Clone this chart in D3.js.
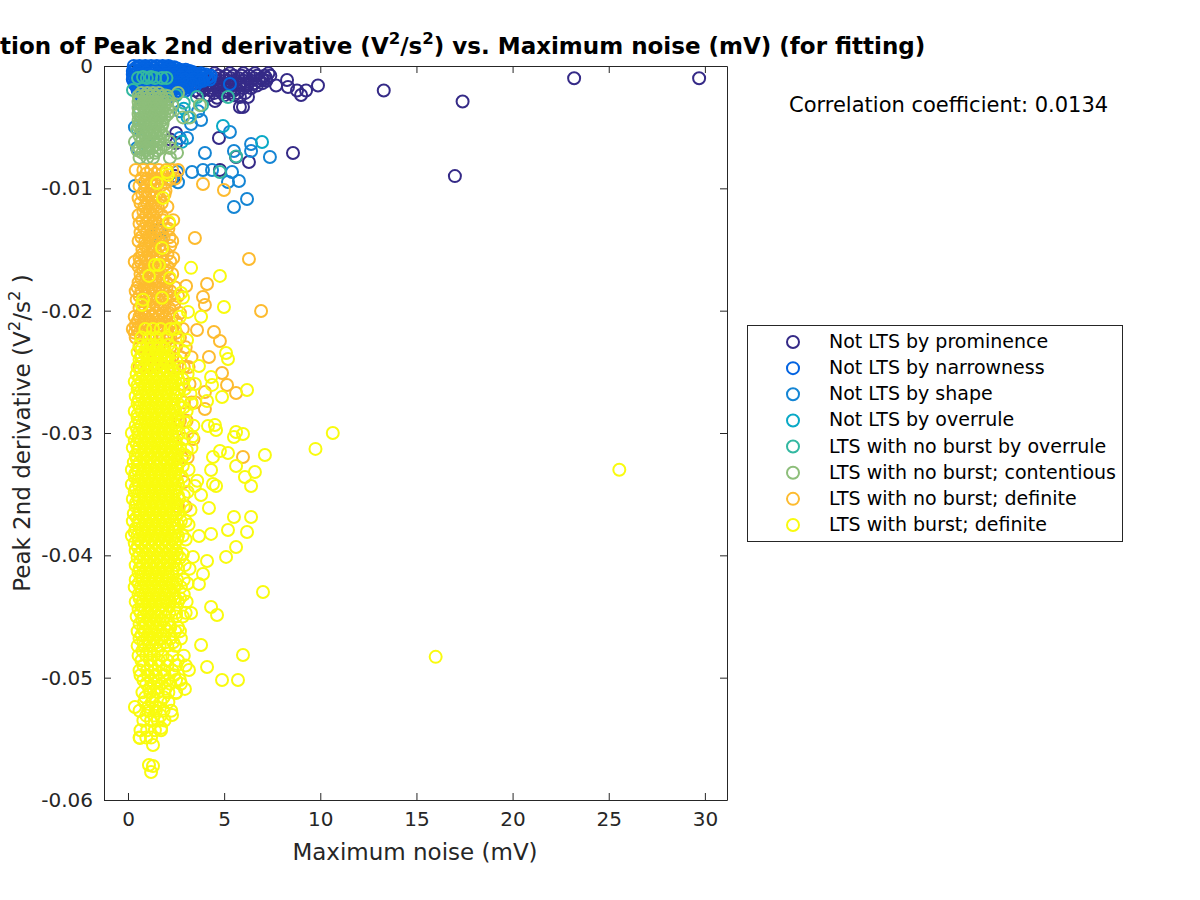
<!DOCTYPE html>
<html><head><meta charset="utf-8">
<script src="https://cdn.jsdelivr.net/npm/d3@7"></script>
<style>html,body{margin:0;background:#fff}svg{display:block}text{font-family:"DejaVu Sans";}</style>
</head><body><svg id="c" width="1200" height="900"></svg>
<script>
const categories=["Not LTS by prominence","Not LTS by narrowness","Not LTS by shape","Not LTS by overrule","LTS with no burst by overrule","LTS with no burst; contentious","LTS with no burst; definite","LTS with burst; definite"];
const colors=["#352a87","#0363e1","#1485d4","#09a9c6","#33b8a1","#8dbe7a","#fdbb2f","#f9fb0e"];
const xTicks=[0,5,10,15,20,25,30];
const yTicks=[0,-.01,-.02,-.03,-.04,-.05,-.06];
const yTickLabels=["0","-0.01","-0.02","-0.03","-0.04","-0.05","-0.06"];
// each row: [y, x, x, ...]
const prominence=[[-.0008,3.9,4.3,4.7,5.1,5.5,5.9,6.3,6.7,7.1,7.4],[-.0012,4,4.4,4.8,5.2,5.6,6,6.4,6.8,7.2],[-.0016,3.8,4.2,4.6,5,5.4,5.8,6.2,6.7,7.7,9.88],[-.002,3.5,3.9,4.3,4.7,5.1,5.5,8.79,9.26],
[-.001,4.15,4.55,4.95,5.35,5.75,6.15,6.55,6.95],[-.0014,3.9,4.2,4.6,5,5.4,5.8,6.2,6.6,7],[-.0018,4,4.4,4.8,5.2,5.6,6,6.4],[-.0022,3.7,4.5,4.9,5.3,5.7,6.1],[-.0006,4.5,5.3,6,6.6,7.3],[-.0024,4.2,5,5.5],
[-.00114,8.27,7.02],[-.00098,7.18],[-.00172,8.32],[-.00237,9],[-.00286,4.52],[-.00335,5.82,5.98],[-.00253,6.24,5.82],[-.0026,4.63],[-.00589,4.73],[-.00548,2.5],[-.00711,8.58],[-.00785,6.29],[-.00744,5.62],[-.0085,4.78],[-.006,2.2],[-.0063,2.5],[-.009,2.45,17],[-.001,29.7,23.2],[-.0029,17.4],[-.002,13.3]];
const narrowness=[[0,.3,.6,.9,1.2,1.5,1.8,2.1],[-.0004,.25,.55,.85,1.15,1.45,1.75,2.05,2.35,2.65,2.95,3.2],[-.0008,.3,.6,.9,1.2,1.5,1.8,2.1,2.4,2.7,3,3.3,3.6,3.95,4.3],[-.0012,.3,.6,.9,1.2,1.5,1.8,2.1,2.4,2.7,3,3.3,3.6,3.9],[-.0016,.4,.7,1,1.3,1.6,1.9,2.2,2.5,2.8,3.1,3.5],[-.002,.5,.8,1.1,1.4,1.7,2,2.3,2.6,3],[-.0025,.7,1,1.3,1.6,1.9,2.2],[-.00147,5.3],
[-.0002,.4,.75,1.05,1.35,1.65,1.95,2.25,2.55],[-.0006,.4,.7,1,1.3,1.6,1.9,2.2,2.5,2.8,3.1,3.45,3.8],[-.001,.45,.75,1.05,1.35,1.65,1.95,2.25,2.55,2.85,3.15,3.45,3.75,4.1],[-.0014,.45,.75,1.05,1.35,1.65,1.95,2.25,2.55,2.85,3.15,3.45],[-.0018,.55,.85,1.15,1.45,1.75,2.05,2.35,2.65,2.95,3.25],[-.0022,.65,.95,1.25,1.55,1.85,2.15,2.45],
[-.0001,.45,.9,1.35,1.8,2.2,2.4],[-.0003,.3,.7,1.1,1.5,1.9,2.3,2.7,3],[-.0005,.5,.95,1.4,1.85,2.3,2.75,3.35],[-.0007,.25,.65,1.1,1.55,2,2.45,2.9,3.3,3.7,4.05],[-.0009,.5,.95,1.4,1.85,2.3,2.75,3.2,3.65,4.2],[-.0011,.25,.7,1.15,1.6,2.05,2.5,2.95,3.4,3.85,4.25],[-.0013,.55,1,1.45,1.9,2.35,2.8,3.25,3.7],[-.0015,.35,.8,1.25,1.7,2.15,2.6,3.05,3.35],[-.0017,.55,1,1.45,1.9,2.35,2.8],[-.0019,.6,1.05,1.5,1.95,2.4,2.85]];
const shape=[[-.00744,7.38],[-.00638,6.4],[-.00695,6.4,5.51],[-.00711,4],[-.00866,3.33,5.41,2.55],[-.0085,3.9,4.37],[-.00948,5.2],[-.0094,5.77],[-.01087,6.19],[-.01152,5.51],[-.0054,5.3],[-.00474,3.28],[-.00441,3.8],[-.00589,3.07,2.7],[-.0095,2.6],[-.0098,.36],[-.005,.36],[-.0067,.47],[-.0093,2.29],[-.0134,1.66,1.5],[-.0142,1.7],[-.0037,3.65,2.7]];
const overrule=[[-.00621,6.97],[-.0049,4.94],[-.0035,2.9,.6],[-.0042,3.1],[-.0062,2.8],[-.0065,1],[-.0052,.5]];
const noBurstOverrule=[[-.00098,.52,.98,1.4,1.77,2],[-.0009,.78,1.2],[-.00196,.26],[-.00253,3.59,5.2],[-.0032,3.85],[-.0074,5.62],[-.00866,4.78],[-.0024,1.9,2.5],[-.003,2.9]];
const contentious=[[-.0022,.7,1,1.3,1.6,2.6],[-.0027,.6,.9,1.2,1.5,1.8,2.1],[-.0032,.7,1,1.3,1.6,1.9,2.3,3.74],[-.0037,.6,.9,1.2,1.5,1.8,2.2],[-.0042,.7,1,1.3,1.6,1.9,2.86,3.22],[-.0047,.6,.9,1.2,1.5,1.8],[-.0052,.7,1,1.3,1.6,.47],[-.0057,.6,.9,1.2,1.5,1.85],[-.0062,.36,.7,1,1.3,1.6,2.18],[-.0067,.6,.9,1.25,1.7,2.2],[-.0071,.75,1.05,1.4,2.55],[-.0075,.6,1,1.3,2.18],
[-.00245,.55,.85,1.15,1.45,1.75,2.05],[-.00295,.55,.85,1.15,1.45,1.75,2.05],[-.00345,.55,.85,1.15,1.45,1.75,2.05],[-.00395,.55,.85,1.15,1.45,1.75,2.05],[-.00445,.55,.85,1.15,1.45,1.75],[-.00495,.55,.85,1.15,1.45,1.75],[-.00545,.8,1.1,1.4,1.7],[-.00595,.75,1.05,1.35,1.65],[-.00645,.8,1.1,1.45,1.9],[-.0069,.5,.95,1.5]];
const noBurstDefinite=[[-.0085,.4,.8,1.2,1.6,2,2.3,2.6],[-.0092,.7,1,1.4,1.75,2.2,2.45],[-.0098,.6,.95,1.3,1.7],[-.0105,.75,1.1,1.5,1.9],[-.0112,.65,1,1.35,1.75],[-.0119,.8,1.15,1.5],[-.0126,.75,1.05,1.4,1.8,2.35],[-.0133,.85,1.2,1.6,2.1],[-.014,.7,1.05,1.4,1.85,2.15],[-.0147,.9,1.25,1.65,2.2],[-.0154,.75,1.1,1.5,2.05],[-.016,.35,.65,1,1.4,1.85,2.2],[-.0167,.8,1.15,1.55,2],[-.0174,.7,1.05,1.4,1.8,2.15],[-.0181,.5,.85,1.2,1.6,2,2.45],[-.0188,.6,.95,1.35,1.75,2.2,2.6],[-.0195,.75,1.1,1.5,1.9,2.4],[-.0202,.7,1.05,1.4,1.8,2.15,2.7],[-.0209,.5,.85,1.2,1.6,2,2.5],[-.0215,.25,.5,.8,1.15,1.5,1.9,2.3,2.85],[-.0222,.4,.7,1.05,1.4,1.8,2.2,2.7],[-.023,.6,1,1.4,1.8,2.2,2.5,3],[-.0238,.7,1.1,1.5,1.9,2.3,2.75,3.3],[-.0246,.6,1,1.4,1.8,2.4,2.9,3.15],[-.026,2.8,3.2],[-.0275,2.9,3.3,3.5],[-.029,2.7,3.05],[-.0305,2.9,3.4],[-.032,2.8,3.1],[-.034,2.9],[-.036,2.6,3],
[-.0088,.95,1.4,1.8],[-.0095,.85,1.2,1.55,2],[-.0102,.85,1.2,1.95],[-.0108,.55,.95,1.3,1.65],[-.0115,.85,1.2,1.55,2.05],[-.0122,.55,.95,1.3,1.75],[-.0129,.6,.95,1.25,1.55,2.15],[-.0136,.65,1,1.35,1.75],[-.0143,.55,.9,1.2,1.6,2.3],[-.015,.75,1.05,1.4,1.85],[-.0157,.6,.95,1.3,1.7,2.35],[-.0164,.55,.85,1.2,1.6,2.05],[-.017,.65,.95,1.35,1.75,2.3],[-.0177,.55,.9,1.25,1.6,2],[-.0184,.4,.7,1.05,1.4,1.8,2.2],[-.0191,.45,.8,1.15,1.55,1.95,2.4],[-.0198,.6,.9,1.3,1.7,2.15],[-.0205,.35,.6,.9,1.25,1.6,1.95,2.3],[-.0212,.4,.7,1.05,1.4,1.75,2.15],[-.0218,.35,.6,.95,1.3,1.65,2.05,2.5],
[-.01406,3.48],[-.01578,6.29],[-.01782,4.11],[-.01798,3.02],[-.01888,3.9],[-.01954,4],[-.02003,6.92],[-.02158,3.59],[-.02174,4.47],[-.02248,4.78],[-.02379,4.21],[-.0251,4.89],[-.02608,5.15],[-.02673,5.62],[-.02804,4],[-.02665,4],[-.03196,5.98],[-.00965,3.9],[-.01014,4.99]];
const burstDefinite=[[-.0215,.9,1.3,1.7,2.2,2.44],[-.0222,.7,1.1,1.5,2,2.6],[-.0228,.6,1,1.35,1.7,2.1],[-.0234,.5,.85,1.2,1.55,1.9,2.35,2.9],[-.024,.6,1,1.35,1.7,2.05,2.5],[-.0246,.5,.85,1.2,1.5,1.85,2.2,2.7],[-.0252,.45,.8,1.15,1.5,1.85,2.2,2.55,3.1],[-.0258,.35,.7,1.05,1.4,1.75,2.1,2.45],[-.0264,.5,.85,1.2,1.55,1.9,2.25,2.6,2.95],[-.027,.4,.7,1.05,1.4,1.75,2.1,2.45],[-.0276,.5,.85,1.2,1.55,1.9,2.25,2.6,3.3],[-.0282,.35,.7,1.05,1.4,1.75,2.1,2.45,3.05],[-.0288,.5,.85,1.2,1.55,1.9,2.25,2.6],[-.0294,.4,.7,1.05,1.4,1.75,2.1,2.5,3.4],[-.03,.2,.55,.9,1.25,1.6,1.95,2.3,2.65,3.1],[-.0306,.35,.7,1.05,1.4,1.75,2.1,2.45],[-.0312,.25,.55,.9,1.25,1.6,1.95,2.3,2.7,3.3],[-.0318,.4,.7,1.05,1.4,1.75,2.1,2.45,2.95],[-.0324,.3,.6,.95,1.3,1.65,2,2.35,2.65],[-.033,.2,.5,.85,1.2,1.55,1.9,2.25,2.55,3.15],[-.0336,.35,.7,1.05,1.4,1.75,2.1,2.45,2.8],[-.0342,.2,.55,.9,1.25,1.6,1.95,2.3,2.6],[-.0348,.35,.7,1.05,1.4,1.75,2.1,2.45,3.1],[-.0354,.25,.55,.9,1.25,1.6,1.95,2.3,2.65],[-.036,.4,.75,1.1,1.45,1.8,2.15,2.5,2.9],[-.0366,.3,.6,.95,1.3,1.65,2,2.35,2.6],[-.0372,.25,.55,.9,1.25,1.6,1.95,2.3,2.75,3],[-.0378,.4,.7,1.05,1.4,1.75,2.1,2.45],[-.0384,.2,.5,.85,1.2,1.55,1.9,2.25,2.6,2.85],[-.039,.35,.7,1.05,1.4,1.75,2.1,2.45],[-.0396,.4,.75,1.1,1.45,1.8,2.15,2.5],[-.0402,.5,.85,1.2,1.55,1.9,2.25,2.7],[-.0408,.4,.75,1.1,1.45,1.8,2.15,2.5,2.95],[-.0414,.55,.9,1.25,1.6,1.95,2.3],[-.042,.4,.75,1.1,1.45,1.8,2.15,2.55,2.9],[-.0426,.35,.65,1,1.35,1.7,2.05,2.4,2.75],[-.0432,.55,.9,1.25,1.6,1.95,2.35,2.9],[-.0438,.4,.75,1.1,1.45,1.8,2.2,2.6,3.05],[-.0444,.55,.9,1.25,1.6,2,2.4],[-.045,.45,.8,1.15,1.5,1.9,2.5,2.85],[-.0456,.6,.95,1.3,1.7,2.15],[-.0462,.5,.85,1.2,1.55,2,2.45,2.7],[-.0468,.6,1,1.35,1.75,2.2,2.75],[-.0474,.5,.85,1.25,1.65,2.05,2.45],[-.0482,.55,.95,1.35,1.8,2.3,2.9],[-.049,.8,1.2,1.6,2.05,2.5,3],[-.0498,.65,1.05,1.45,1.9,2.4],[-.0505,.95,1.35,1.75,2.2,2.75],[-.0512,.75,1.15,1.55,2.1,2.5],[-.052,.85,1.25,1.7,2.1],[-.0527,.6,1.05,1.45,1.85,2.25],[-.0535,.8,1.2,1.55,1.9],[-.0543,.65,1,1.4,1.72],[-.0549,.6,.95,1.2],
[-.0231,.72,1.12,1.5,1.88],[-.0237,.68,1.02,1.38,1.72,2.08],[-.0243,.7,1.05,1.4,1.75,2.05],[-.0249,.65,1,1.35,1.7,2.05,2.35],[-.0255,.6,.95,1.3,1.65,2,2.35],[-.0261,.5,.85,1.2,1.55,1.9,2.25],[-.0267,.62,.97,1.32,1.67,2.02,2.35],[-.0273,.55,.9,1.25,1.6,1.95,2.3],[-.0279,.62,.97,1.32,1.67,2.02,2.38],[-.0285,.5,.88,1.22,1.58,1.93,2.28],[-.0291,.6,.95,1.3,1.65,2,2.35],[-.0297,.48,.82,1.17,1.52,1.87,2.22],[-.0303,.55,.9,1.25,1.6,1.95,2.3],[-.0309,.45,.8,1.15,1.5,1.85,2.2,2.5],[-.0315,.52,.87,1.22,1.57,1.92,2.27],[-.0321,.45,.8,1.15,1.5,1.85,2.2,2.55],[-.0327,.5,.83,1.18,1.53,1.88,2.23],[-.0333,.38,.72,1.07,1.42,1.77,2.12,2.45],[-.0339,.52,.87,1.22,1.57,1.92,2.27],[-.0345,.4,.75,1.1,1.45,1.8,2.15,2.5],[-.0351,.52,.87,1.22,1.57,1.92,2.27],[-.0357,.42,.77,1.12,1.47,1.82,2.17,2.5],[-.0363,.58,.93,1.28,1.63,1.98,2.33],[-.0369,.45,.8,1.15,1.5,1.85,2.2],[-.0375,.55,.9,1.25,1.6,1.95,2.35],[-.0381,.35,.72,1.07,1.42,1.77,2.12,2.45],[-.0387,.55,.9,1.25,1.6,1.95,2.3],[-.0393,.5,.88,1.23,1.58,1.93,2.28],[-.0399,.6,.95,1.3,1.65,2,2.35],[-.0405,.65,1,1.35,1.7,2.05,2.4],[-.0411,.6,.95,1.3,1.65,2,2.35],[-.0417,.72,1.07,1.42,1.77,2.12],[-.0423,.55,.9,1.25,1.6,1.95,2.3],[-.0429,.72,1.07,1.42,1.77,2.12],[-.0435,.6,.95,1.3,1.65,2,2.45],[-.0441,.72,1.07,1.42,1.77,2.15],[-.0447,.65,1,1.35,1.7,2.15],[-.0453,.75,1.1,1.45,1.8],[-.0459,.8,1.15,1.5,1.9],[-.0465,.7,1.05,1.4,1.8],[-.0471,.8,1.15,1.5],[-.0478,.75,1.15,1.55],
[-.0486,.7,1.15,1.6,2.05,2.6],[-.0494,.6,1,1.4,1.85,2.3],[-.0502,.8,1.2,1.6,2.05,2.5],[-.0509,1.1,1.5,1.95],[-.0516,.9,1.3,1.85],[-.0524,1.05,1.45],[-.0531,.95,1.35,1.7],
[-.0256,2.6,2.85],[-.0268,2.55,3.25],[-.0279,2.7,2.9],[-.0291,2.6,2.95],[-.0303,2.55,3.35],[-.0314,2.58,3.05],[-.0327,2.5,2.85],[-.0339,2.55,3.6],[-.0351,2.6,2.9],[-.0363,2.52,3.25],[-.0375,2.6,3.15],[-.0387,2.55,3],[-.0399,2.55,2.85],[-.0411,2.6,3.2],[-.0423,2.5,3.1],[-.0435,2.4,2.7],[-.0447,2.5,3],[-.0459,2.2,2.6],[-.0471,1.95,2.35],
[-.00866,2.03],[-.0089,2.08],[-.00956,1.5],[-.01078,1.82],[-.01275,2.13],[-.01487,1.77],[-.01626,1.61,1.4],[-.01716,1.09,4.78],[-.01732,2.18],[-.0165,3.28],[-.0197,4.99],[-.0205,3.8,2.7],[-.01895,1.77,2.86],[-.0191,.78],[-.01953,.73],[-.01855,2.76],[-.0201,3.12],[-.0224,3.07],[-.02346,5.1],[-.02395,5.2],[-.02452,3.69],[-.02542,4.32],[-.02607,4.37],[-.02648,6.19],[-.02706,4.89],[-.026,3.48],[-.02738,4.11],[-.02934,4.52],[-.02975,4.58],[-.02943,4.16],[-.02992,5.62],[-.03033,5.51],[-.03008,5.98],[-.03147,4.78],[-.03163,5.2],[-.03196,4.42],[-.0318,7.12],[-.0327,5.62],[-.03319,6.6],[-.03302,4.32],[-.0336,6.08],[-.03433,6.4,4.58,3.48],[-.03417,4.42],[-.03507,3.8],[-.03613,4.21],[-.03687,6.4,5.51],[-.03793,5.2],[-.03809,6.19],[-.03825,4.32],[-.03842,3.69],[-.03932,5.62],[-.04013,5.1,3.38],[-.04046,4.11],[-.04152,3.9],[-.04234,3.69],[-.043,7.02],[-.04422,4.32],[-.04488,4.63],[-.04471,3.28],[-.04733,3.8],[-.04815,5.98],[-.04913,4.11],[-.05019,4.89,5.72,2.7],[-.04937,3.17],[-.05092,2.96],[-.05125,2.5],[-.05305,2.29],[-.05411,1.72],[-.0555,1.3],[-.0524,.36],[-.05493,.62],[-.05714,1.09],[-.05722,1.3],[-.05771,1.2],[-.033,25.55],[-.0483,16],[-.03,10.65],[-.0313,9.75]];
const seriesRows=[prominence,narrowness,shape,overrule,noBurstOverrule,contentious,noBurstDefinite,burstDefinite];

const svg=d3.select("#c");
const x=d3.scaleLinear().domain([-1.248,31.15]).range([104,727]);
const y=d3.scaleLinear().domain([-.06,0]).range([800,66]);
const ink="#262626";
const L=104,R=727,T=66,B=800;
function styleAxis(g){g.select(".domain").attr("stroke",ink);g.selectAll("line").attr("stroke",ink);g.selectAll("text").attr("fill",ink).style("font-size","20px").style("font-family","DejaVu Sans");}
function noLabels(g){g.selectAll("text").remove();}
svg.append("g").attr("transform",`translate(0,${B})`).call(d3.axisBottom(x).tickValues(xTicks).tickFormat(d3.format("d")).tickSizeInner(-7).tickSizeOuter(0).tickPadding(12)).call(styleAxis);
svg.append("g").attr("transform",`translate(0,${T})`).call(d3.axisTop(x).tickValues(xTicks).tickSizeInner(-7).tickSizeOuter(0)).call(styleAxis).call(noLabels);
svg.append("g").attr("transform",`translate(${L},0)`).call(d3.axisLeft(y).tickValues(yTicks).tickFormat((d,i)=>yTickLabels[i]).tickSizeInner(-7).tickSizeOuter(0).tickPadding(11)).call(styleAxis);
svg.append("g").attr("transform",`translate(${R},0)`).call(d3.axisRight(y).tickValues(yTicks).tickSizeInner(-7).tickSizeOuter(0)).call(styleAxis).call(noLabels);
seriesRows.forEach((rows,i)=>{
  const pts=rows.flatMap(r=>r.slice(1).map(v=>[v,r[0]]));
  svg.append("g").attr("class","series").selectAll("circle").data(pts).join("circle")
    .attr("cx",d=>x(d[0])).attr("cy",d=>y(d[1])).attr("r",6).attr("fill","none").attr("stroke",colors[i]).attr("stroke-width",2);
});
function sup(sel,parts,base){
  let pending=0;
  parts.forEach(p=>{
    const t=sel.append("tspan").text(p[0]);
    if(p[1]){t.attr("dy",-base*.42).attr("font-size",base*.72);pending=base*.42;}
    else if(pending){t.attr("dy",pending);pending=0;}
  });
}
const title=svg.append("text").attr("x",415.5).attr("y",54).attr("text-anchor","middle").attr("font-size",23).attr("font-weight","bold").attr("fill","#000");
sup(title,[["Correlation of Peak 2nd derivative (V"],["2",1],["/s"],["2",1],[") vs. Maximum noise (mV) (for fitting)"]],23);
svg.append("text").attr("x",415).attr("y",860).attr("text-anchor","middle").attr("font-size",23).attr("fill",ink).text("Maximum noise (mV)");
const yl=svg.append("text").attr("transform","translate(30,433) rotate(-90)").attr("text-anchor","middle").attr("font-size",23).attr("fill",ink);
sup(yl,[["Peak 2nd derivative (V"],["2",1],["/s"],["2",1],[" )"]],23);
svg.append("text").attr("x",789).attr("y",112).attr("font-size",21).attr("fill","#000").text("Correlation coefficient: 0.0134");
svg.append("rect").attr("x",747.5).attr("y",325.5).attr("width",375).attr("height",216).attr("fill","#fff").attr("stroke",ink);
const ly=d3.scalePoint().domain(categories).range([342,525]);
const lg=svg.append("g").selectAll("g").data(categories).join("g");
lg.append("circle").attr("cx",793).attr("cy",d=>ly(d)).attr("r",6).attr("fill","none").attr("stroke-width",2).attr("stroke",(d,i)=>colors[i]);
lg.append("text").attr("x",829).attr("y",d=>ly(d)+6).attr("font-size",19).attr("fill","#000").text(d=>d);
</script></body></html>
